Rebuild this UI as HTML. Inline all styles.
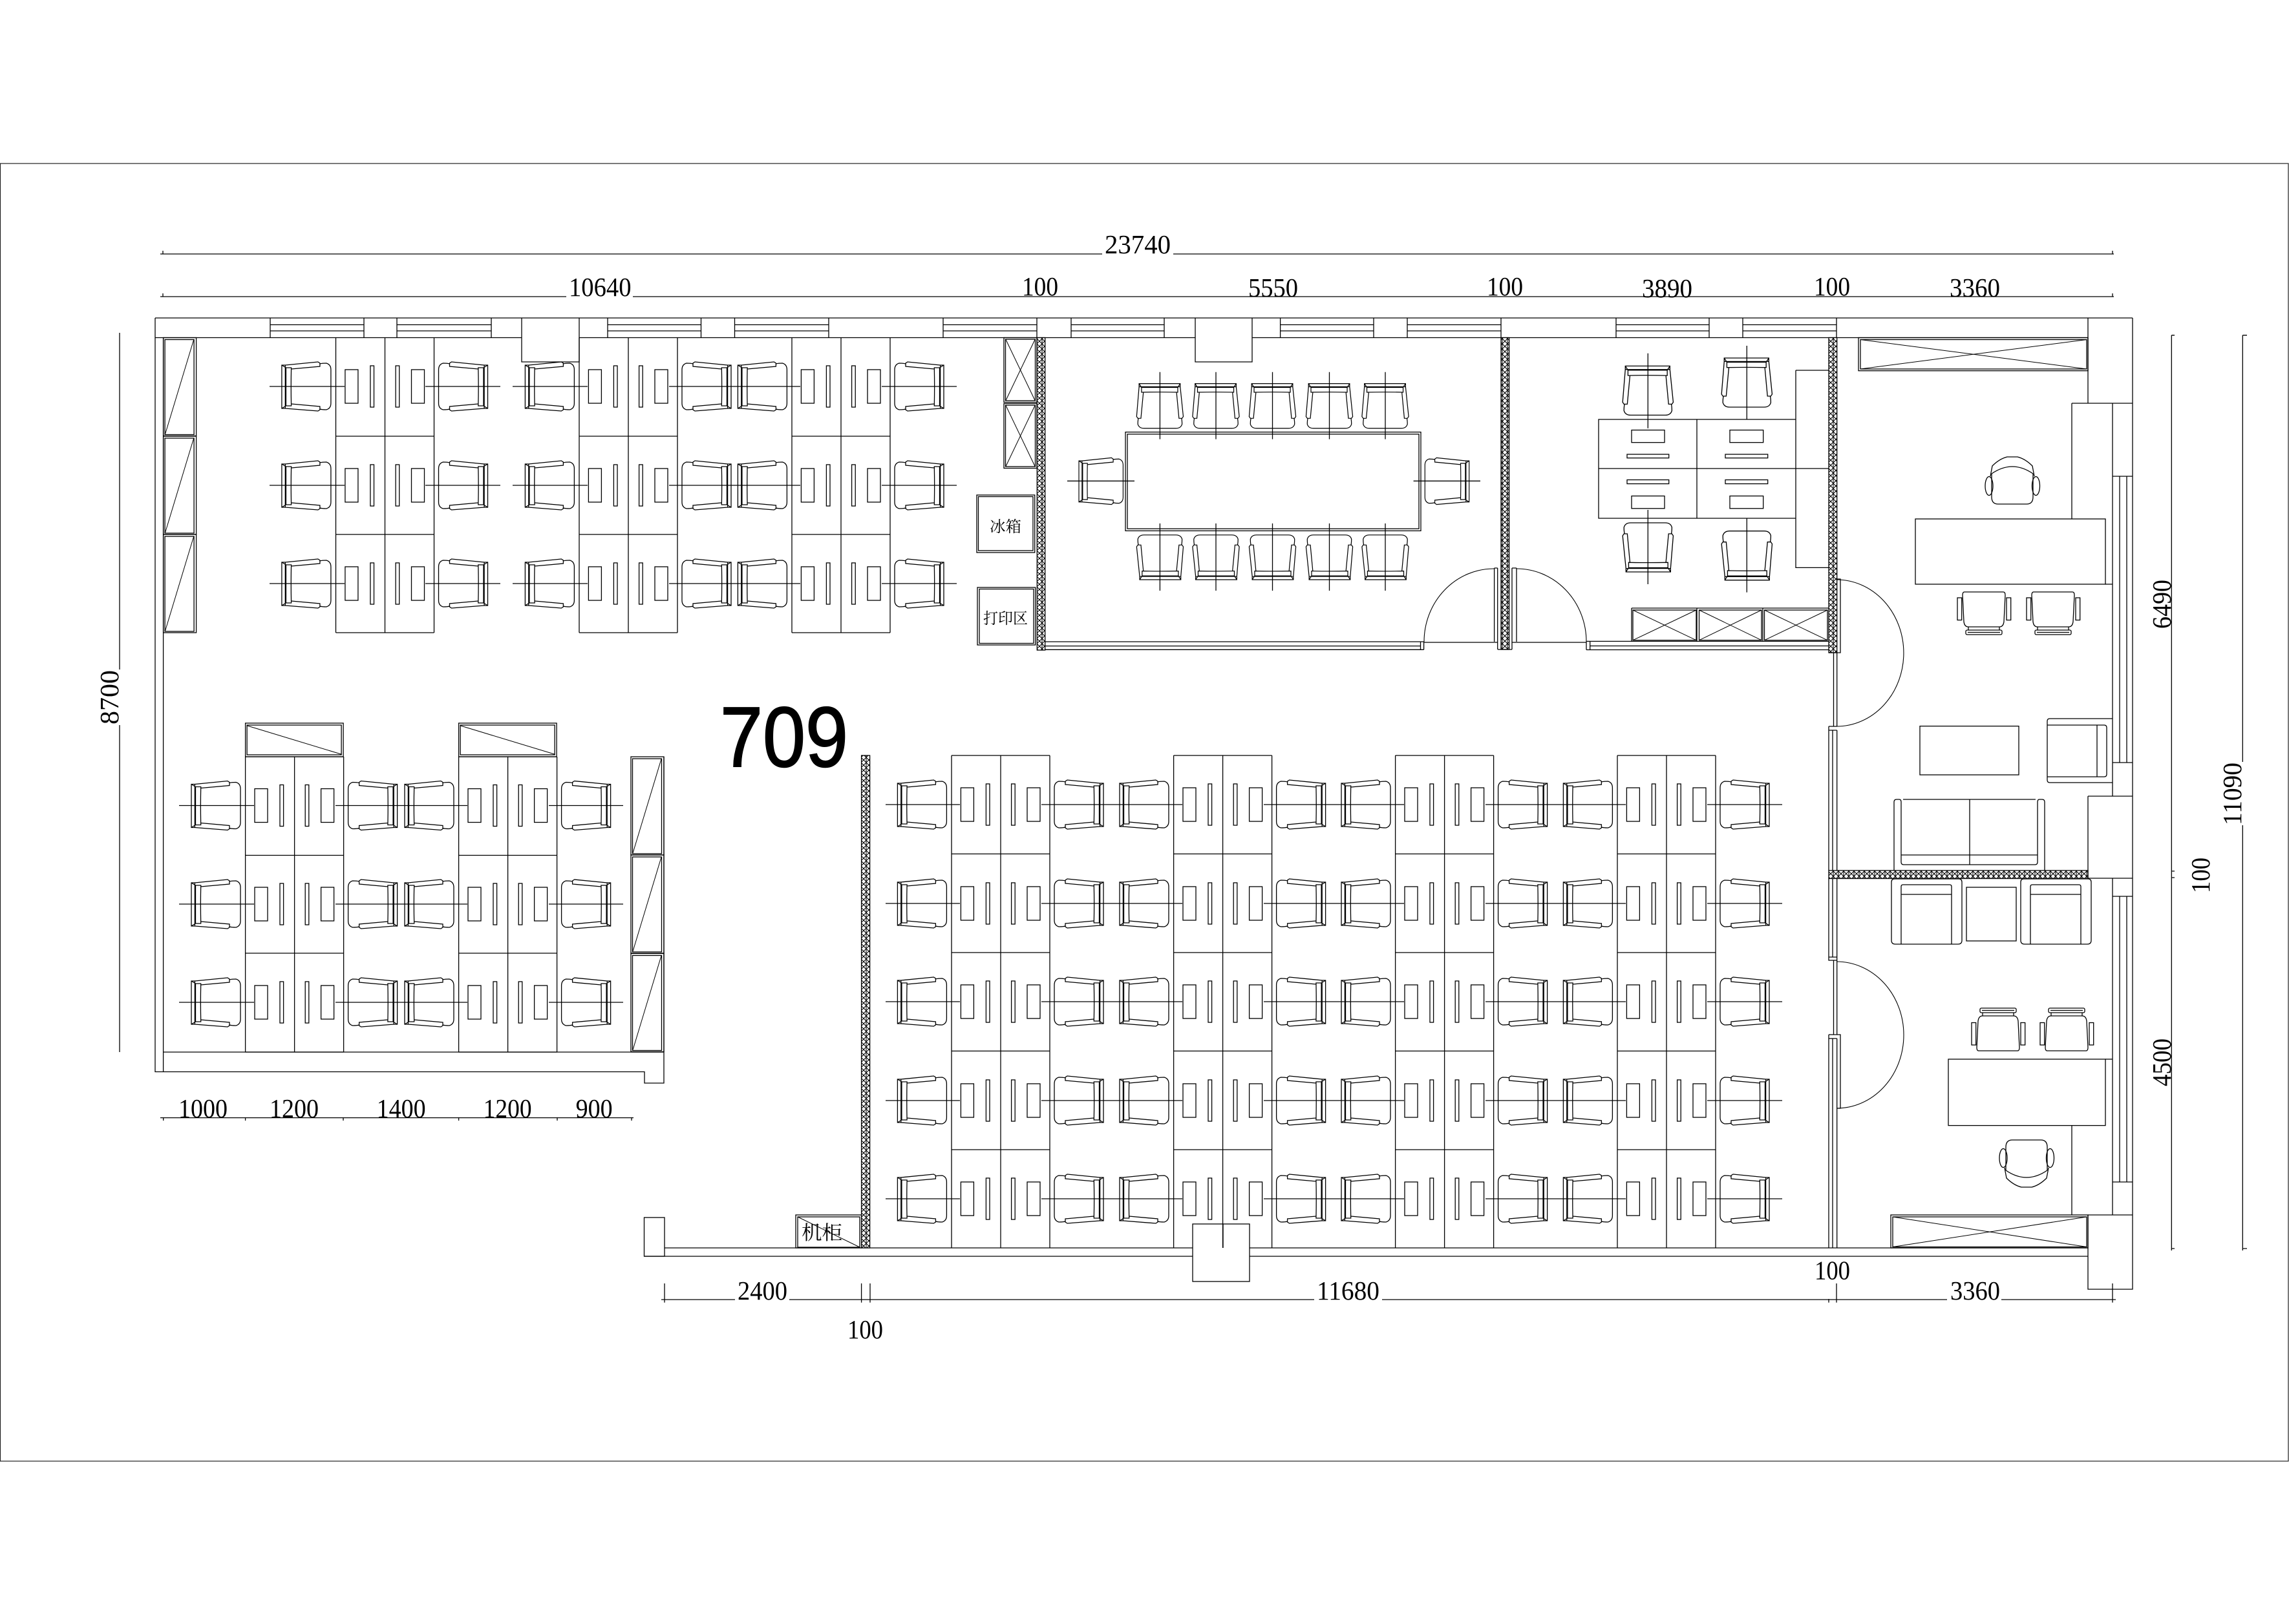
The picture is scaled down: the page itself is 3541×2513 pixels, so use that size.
<!DOCTYPE html>
<html><head><meta charset="utf-8"><title>709</title>
<style>
html,body{margin:0;padding:0;background:#fff}
svg{display:block}
.d{font-family:"Liberation Serif","Noto Serif CJK SC",serif;font-size:41px;fill:#000;stroke:none}
.z{font-family:"Liberation Serif","Noto Serif CJK SC",serif;fill:#000;stroke:none}
</style></head><body>
<svg xmlns="http://www.w3.org/2000/svg" width="3541" height="2513" viewBox="0 0 3541 2513" fill="none" stroke="#000" stroke-width="1.3">
<defs>
<pattern id="h" width="8" height="8" patternUnits="userSpaceOnUse">
<rect width="8" height="8" fill="#fff" stroke="none"/>
<path d="M0,0L8,8M8,0L0,8M4,0V8" stroke="#000" stroke-width="1.05"/>
</pattern>
<path id="c" d="M0,-33H5.4V34H0ZM6.5,-29H14.7Q14,0 14.7,30H6.5ZM0,-33L6.5,-29M0,34L6.5,30M5.4,-33L56,-38L59,-36V-31L14.7,-27M5.4,34L56,38L59,36V31L14.7,27M59,-35Q62,-36 69,-36Q76,-34 76,-26V26Q76,34 69,36Q62,36 59,35"/>
<g id="u">
<use href="#c" x="-83.6"/>
<use href="#c" transform="translate(235,0) scale(-1,1)"/>
<rect x="14.4" y="-26" width="20" height="52"/>
<rect x="53.4" y="-32" width="5.6" height="64"/>
<rect x="92.6" y="-32" width="5.6" height="64"/>
<rect x="117" y="-26" width="20" height="52"/>
</g>
<g id="rU">
<use href="#u" x="519.5"/><use href="#u" x="896"/><use href="#u" x="1225"/>
<path d="M417,0H533M658,0H774M793,0H909M1035,0H1238M1364,0H1480"/>
</g>
<g id="rL">
<use href="#u" x="379.6"/><use href="#u" x="709.6"/>
<path d="M277,0H393M519,0H723M849,0H964"/>
</g>
<g id="rM">
<use href="#u" x="1472"/><use href="#u" x="1815.6"/><use href="#u" x="2158.6"/><use href="#u" x="2502"/>
<path d="M1370,0H1485M1611,0H1829M1955,0H2172M2298,0H2515M2641,0H2757"/>
</g>
<path id="dU" d="M0,0V456.5M76,0V456.5M152,0V456.5M0,152.5H152M0,304.5H152M0,456.5H152"/>
<path id="dL" d="M0,0H152M0,0V457M76,0V457M152,0V457M0,152.5H152M0,304H152M0,457H152"/>
<path id="dM" d="M0,0H152M0,0V762M76,0V762M152,0V762M0,152.4H152M0,305H152M0,457.4H152M0,610H152"/>
<g id="tc">
<rect x="0" y="0" width="51" height="152"/>
<rect x="2.5" y="3" width="45" height="147"/>
<path d="M3,149L47,3.5" stroke-width="1"/>
</g>
<g id="wc">
<rect x="0" y="0" width="151.5" height="52"/>
<rect x="2.5" y="3" width="146" height="46"/>
<path d="M3,4L148,48" stroke-width="1"/>
</g>
<g id="xc">
<rect x="0" y="0" width="51" height="100"/>
<rect x="2.5" y="2.5" width="46" height="95"/>
<path d="M3,3L48,97M48,3L3,97" stroke-width="1"/>
</g>
<g id="boss">
<path d="M-34,30L-31,14Q-20,3 -8,0H8Q20,3 31,14L34,30M-32,26Q0,4 32,26M-32,26V62Q-32,73 -22,73H22Q32,73 32,62V26"/>
<ellipse cx="-36" cy="45" rx="6" ry="14.5"/><ellipse cx="36.5" cy="45" rx="6" ry="14.5"/>
</g>
<g id="guest">
<path d="M-30,0H30Q33,0 33,5L31,46Q30,54 24,54H-24Q-30,54 -31,46L-33,5Q-33,0 -30,0ZM-24,54V59M24,54V59"/>
<rect x="-41" y="9" width="6.7" height="34.5"/><rect x="35" y="9" width="6.7" height="34.5"/>
<rect x="-28" y="59" width="56" height="7" rx="2"/><path d="M-25,62.5H25"/>
</g>
<g id="sc">
<path d="M0,5V95Q0,101 6,101H103Q109,101 109,95V5Q109,0 104,0H5Q0,0 0,5ZM15,101V12Q15,9 18,9H90Q93,9 93,12V101M15,24H93"/>
</g>
</defs>

<!-- sheet frame -->
<rect x="0.5" y="253" width="3539.5" height="2008" stroke="#222" stroke-width="1.2"/>

<!-- top wall -->
<path d="M240,492H3299M240,522.5H807M896,522.5H1849M1937,522.5H3230"/>
<path d="M807,492V560H896V492M1849,492V560H1937V492"/>
<path id="w" d="M418,492V522.5M563,492V522.5M418,502.5H563M418,512H563
M614,492V522.5M760,492V522.5M614,502.5H760M614,512H760
M940,492V522.5M1084.5,492V522.5M940,502.5H1084.5M940,512H1084.5
M1136.5,492V522.5M1282,492V522.5M1136.5,502.5H1282M1136.5,512H1282
M1459,492V522.5M1604,492V522.5M1459,502.5H1604M1459,512H1604
M1657,492V522.5M1801,492V522.5M1657,502.5H1801M1657,512H1801
M1980.6,492V522.5M2125,492V522.5M1980.6,502.5H2125M1980.6,512H2125
M2177,492V522.5M2322,492V522.5M2177,502.5H2322M2177,512H2322
M2500,492V522.5M2644,492V522.5M2500,502.5H2644M2500,512H2644
M2696,492V522.5M2841,492V522.5M2696,502.5H2841M2696,512H2841"/>

<!-- left wall and lower-left -->
<path d="M240,492V1658.5H997V1676H1027V1171M252.6,522.5V1658.5M252.6,1628H1027"/>

<!-- right wall -->
<path d="M3299,492V1995H3230V1880M3230,492V624M3205,624H3299M3205,624V803M3268,624V1232M3268,737H3299M3268,1180H3299M3279,737V1180M3290,737V1180
M3230,1232H3299M3230,1232V1359M3230,1359H3299M3268,1359V1880M3268,1387H3299M3268,1829H3299M3279,1387V1829M3290,1387V1829M3230,1880H3299M3205,1741.6V1880"/>

<!-- bottom wall -->
<path d="M1028,1931H3230M996.5,1944H1845M1933,1944H3230"/>
<rect x="996.5" y="1884" width="31.5" height="60"/>
<rect x="1845" y="1894" width="88" height="89" fill="#fff"/>
<path d="M1892,1894V1931"/>

<!-- hatched partitions -->
<g fill="url(#h)">
<rect x="1604.3" y="522.5" width="12.4" height="483.5"/>
<rect x="2322" y="522.5" width="12.6" height="482.5"/>
<rect x="2829" y="522.5" width="12.7" height="487.5"/>
<rect x="2829" y="1347" width="401" height="12.5"/>
<rect x="1332.6" y="1169" width="13" height="762"/>
</g>

<!-- desks upper -->
<use href="#dU" x="519.5" y="522.5"/><use href="#dU" x="896" y="522.5"/><use href="#dU" x="1225" y="522.5"/>
<use href="#rU" y="598"/><use href="#rU" y="751"/><use href="#rU" y="903"/>

<!-- desks lower-left -->
<use href="#dL" x="379.6" y="1171"/><use href="#dL" x="709.6" y="1171"/>
<use href="#rL" y="1246.5"/><use href="#rL" y="1399"/><use href="#rL" y="1551"/>

<!-- desks main -->
<use href="#dM" x="1472" y="1169"/><use href="#dM" x="1815.6" y="1169"/><use href="#dM" x="2158.6" y="1169"/><use href="#dM" x="2502" y="1169"/>
<use href="#rM" y="1245"/><use href="#rM" y="1398"/><use href="#rM" y="1550"/><use href="#rM" y="1703"/><use href="#rM" y="1855"/>

<!-- cabinets -->
<use href="#tc" x="252.6" y="522.5"/><use href="#tc" x="252.6" y="675"/><use href="#tc" x="252.6" y="827"/>
<use href="#tc" x="976" y="1171"/><use href="#tc" x="976" y="1323"/><use href="#tc" x="976" y="1475.5"/>
<use href="#wc" x="379.6" y="1119"/><use href="#wc" x="709.6" y="1119"/>
<use href="#xc" x="1553" y="522.5"/><use href="#xc" x="1553" y="624.5"/>

<!-- fridge / print / rack -->
<rect x="1511" y="766" width="89.7" height="89"/><rect x="1513.5" y="768.5" width="84.5" height="83.5"/>
<text class="z" font-size="24" x="1531" y="823" textLength="49" lengthAdjust="spacingAndGlyphs">冰箱</text>
<rect x="1512" y="909" width="89.7" height="89"/><rect x="1515" y="911.5" width="84" height="84"/>
<text class="z" font-size="24" x="1521" y="965" textLength="69" lengthAdjust="spacingAndGlyphs">打印区</text>
<rect x="1231" y="1880" width="101.6" height="51"/><rect x="1234" y="1883" width="96" height="47"/>
<path d="M1234,1883L1330,1930" stroke-width="1"/>
<text class="z" font-size="30" x="1240" y="1918" textLength="63" lengthAdjust="spacingAndGlyphs">机柜</text>

<!-- meeting room -->
<rect x="1741" y="668.6" width="457" height="152.8"/><rect x="1744" y="671.8" width="451" height="146.4"/>
<g id="mt">
<use href="#c" transform="translate(1794.4,593.6) rotate(90) scale(.91,.95)"/>
<use href="#c" transform="translate(1881,593.6) rotate(90) scale(.91,.95)"/>
<use href="#c" transform="translate(1968.5,593.6) rotate(90) scale(.91,.95)"/>
<use href="#c" transform="translate(2056.5,593.6) rotate(90) scale(.91,.95)"/>
<use href="#c" transform="translate(2143,593.6) rotate(90) scale(.91,.95)"/>
<use href="#c" transform="translate(1794.4,897) rotate(-90) scale(.91,.95)"/>
<use href="#c" transform="translate(1881,897) rotate(-90) scale(.91,.95)"/>
<use href="#c" transform="translate(1968.5,897) rotate(-90) scale(.91,.95)"/>
<use href="#c" transform="translate(2056.5,897) rotate(-90) scale(.91,.95)"/>
<use href="#c" transform="translate(2143,897) rotate(-90) scale(.91,.95)"/>
<use href="#c" transform="translate(1669,744.5) scale(.9,.95)"/>
<use href="#c" transform="translate(2272.7,744.5) scale(-.9,.95)"/>
</g>
<path d="M1794.4,575.7V679.6M1881,575.7V679.6M1968.5,575.7V679.6M2056.5,575.7V679.6M2143,575.7V679.6
M1794.4,810V914M1881,810V914M1968.5,810V914M2056.5,810V914M2143,810V914M1651,744.3H1755M2186.6,744.3H2290"/>

<!-- meeting bottom wall + doors -->
<path d="M1617,993H2202.6M1617,999.6H2197.5M1617,1005.3H2202.6M2197.5,993V1005.3M2202.6,993V1005.3M2202.6,994H2317M2339,994H2454"/>
<path d="M2311.6,879V993M2316.7,879V1005M2311.6,879H2316.7M2339,879V1005M2346,879V993M2339,879H2346M2317,1005H2339"/>
<path stroke-width="1.1" d="M2311,880A108,113 0 0 0 2203,993M2346,880A108,113 0 0 1 2454,993"/>
<path d="M2454,993V1005.5M2459.7,993V1005.5M2454,1005.5H2829M2454,992.4H2829M2459.7,999.5H2829"/>

<!-- room 3 -->
<path d="M2473,649H2778V802H2473ZM2625,649V802M2473,725H2829M2778,573H2829M2778,573V878.4H2829"/>
<rect x="2524" y="665.5" width="51" height="19.2"/><rect x="2517" y="703" width="64.7" height="5.7"/>
<rect x="2676" y="665.5" width="51.7" height="19.2"/><rect x="2669" y="703" width="65.7" height="5.7"/>
<rect x="2517" y="742.5" width="64.7" height="6.1"/><rect x="2524" y="767.5" width="51" height="19.3"/>
<rect x="2669" y="742.5" width="65.7" height="6.1"/><rect x="2676" y="767.5" width="51.7" height="19.3"/>
<use href="#c" transform="translate(2549.3,566.4) rotate(90) scale(1,1.03)"/>
<use href="#c" transform="translate(2702.3,554) rotate(90) scale(1,1.03)"/>
<use href="#c" transform="translate(2549.3,885) rotate(-90) scale(1,1.03)"/>
<use href="#c" transform="translate(2702.3,897.7) rotate(-90) scale(1,1.03)"/>
<path d="M2549.3,546.8V662.7M2702.3,535V649M2549.3,789V904M2702.3,802V916.6"/>
<path d="M2524,941H2829M2524,941V992.4M2625,941V992.4M2727,941V992.4"/>
<rect x="2526" y="944" width="98" height="46.7"/><path d="M2526,944L2624,990.7M2624,944L2526,990.7" stroke-width="1"/>
<rect x="2628.5" y="944" width="96.5" height="46.7"/><path d="M2628.5,944L2725,990.7M2725,944L2628.5,990.7" stroke-width="1"/>
<rect x="2729.5" y="944" width="97.5" height="46.7"/><path d="M2729.5,944L2827,990.7M2827,944L2729.5,990.7" stroke-width="1"/>

<!-- east office walls/doors -->
<path d="M2841.7,896H2847V1010H2829M2836.5,1010V1124M2841.7,1010V1124M2829,1124H2841.7M2829,1130H2841.7M2829,1124V1347M2835,1130V1347M2841.7,1130V1347"/>
<path d="M2829,1359.5V1486H2841.7M2835,1359.5V1481M2841.7,1359.5V1486M2829,1481H2841.7M2836.5,1486V1601M2841.7,1486V1601M2829,1601H2847V1715H2841.7M2829,1607H2841.7M2829,1601V1931M2835,1607V1931M2841.7,1607V1931"/>
<path stroke-width="1.1" d="M2841,897A104,113.5 0 0 1 2841,1124M2841,1488A104,113.5 0 0 1 2841,1715"/>

<!-- upper office -->
<rect x="2875" y="522.5" width="355" height="51.2"/><rect x="2878" y="525.5" width="350" height="45.5"/>
<path d="M2878,525.5L3228,571M3228,525.5L2878,571" stroke-width="1"/>
<rect x="2963" y="803" width="294" height="101"/><path d="M3257,904H3268"/>
<use href="#boss" x="3113" y="707"/>
<use href="#guest" x="3069" y="916"/><use href="#guest" x="3176" y="916"/>
<rect x="2970" y="1123.6" width="153" height="75.4"/>
<path d="M3268,1112H3171Q3167,1112 3167,1116V1207Q3167,1211 3171,1211H3268M3167,1122H3255Q3259,1122 3259,1126V1198Q3259,1202 3255,1202H3167M3244,1122V1202"/>
<path d="M2930,1347V1241Q2930,1237 2934,1237H2938Q2941,1237 2941,1241M3163,1347V1241Q3163,1237 3159,1237H3155Q3152,1237 3152,1241M2941,1241V1334Q2941,1338 2945,1338H3148Q3152,1338 3152,1334V1241M2944,1237H3149M3047,1237V1338M2941,1323H3152"/>

<!-- lower office -->
<use href="#sc" x="2926" y="1360"/><use href="#sc" x="3126" y="1360"/>
<rect x="3042" y="1373" width="77" height="83"/>
<rect x="3014" y="1639" width="243" height="102.6"/><path d="M3257,1639H3268"/>
<use href="#guest" transform="translate(3091,1626) scale(1,-1)"/>
<use href="#guest" transform="translate(3197,1626) scale(1,-1)"/>
<use href="#boss" transform="translate(3135,1837) scale(1,-1)"/>
<rect x="2925" y="1880" width="305" height="51"/><rect x="2928" y="1883" width="300" height="46.5"/>
<path d="M2928,1883L3228,1929.5M3228,1883L2928,1929.5" stroke-width="1"/>

<!-- dimension lines -->
<path d="M248,393H1705M1815,393H3270M252,388V393M3268,388V393"/>
<path d="M248,459H876M979,459H3270M252,454V459M3268,454V459"/>
<path d="M248,1729.6H980M252.7,1729.6V1734M379.6,1729.6V1734M531,1729.6V1734M709.6,1729.6V1734M862,1729.6V1734M977,1729.6V1734"/>
<path d="M1023,2011H1137M1221,2011H2033M2138,2011H3012M3096,2011H3273M1028,1986V2015.6M1332.6,1986V2015.6M1346,1986V2015.6M2829,2010V2015.6M2841,1986V2015.6M3268,1986V2015.6"/>
<path d="M185,515V1036M185,1122V1628"/>
<path d="M3359.3,518.7V1935M3359.3,518.7H3364M3359.3,1348H3364M3359.3,1358H3364M3359.3,1932H3364"/>
<path d="M3469.3,518.7V1179M3469.3,1277V1935M3469.3,518.7H3476M3469.3,1932H3476"/>

<!-- dimension text -->
<g>
<text class="d" x="1709" y="392" textLength="102" lengthAdjust="spacingAndGlyphs">23740</text>
<text class="d" x="880" y="458" textLength="96.5" lengthAdjust="spacingAndGlyphs">10640</text>
<text class="d" x="1581" y="457" textLength="56" lengthAdjust="spacingAndGlyphs">100</text>
<text class="d" x="1931" y="459" textLength="77" lengthAdjust="spacingAndGlyphs">5550</text>
<text class="d" x="2300" y="457" textLength="56" lengthAdjust="spacingAndGlyphs">100</text>
<text class="d" x="2540" y="460" textLength="78" lengthAdjust="spacingAndGlyphs">3890</text>
<text class="d" x="2806" y="457" textLength="56" lengthAdjust="spacingAndGlyphs">100</text>
<text class="d" x="3016" y="459" textLength="78" lengthAdjust="spacingAndGlyphs">3360</text>
<text class="d" x="276" y="1729" textLength="76" lengthAdjust="spacingAndGlyphs">1000</text>
<text class="d" x="417" y="1729" textLength="76" lengthAdjust="spacingAndGlyphs">1200</text>
<text class="d" x="582.6" y="1729" textLength="76" lengthAdjust="spacingAndGlyphs">1400</text>
<text class="d" x="747.6" y="1729" textLength="75" lengthAdjust="spacingAndGlyphs">1200</text>
<text class="d" x="890.6" y="1729" textLength="57" lengthAdjust="spacingAndGlyphs">900</text>
<text class="d" x="1141" y="2011" textLength="77" lengthAdjust="spacingAndGlyphs">2400</text>
<text class="d" x="2037" y="2011" textLength="97" lengthAdjust="spacingAndGlyphs">11680</text>
<text class="d" x="1311" y="2071" textLength="55" lengthAdjust="spacingAndGlyphs">100</text>
<text class="d" x="2807" y="1979.6" textLength="55" lengthAdjust="spacingAndGlyphs">100</text>
<text class="d" x="3017" y="2011" textLength="77" lengthAdjust="spacingAndGlyphs">3360</text>
<text class="d" transform="translate(183,1121) rotate(-90)" textLength="84" lengthAdjust="spacingAndGlyphs">8700</text>
<text class="d" transform="translate(3358,973) rotate(-90)" textLength="76" lengthAdjust="spacingAndGlyphs">6490</text>
<text class="d" transform="translate(3358,1681) rotate(-90)" textLength="74" lengthAdjust="spacingAndGlyphs">4500</text>
<text class="d" transform="translate(3467,1277) rotate(-90)" textLength="97" lengthAdjust="spacingAndGlyphs">11090</text>
<text class="d" transform="translate(3418,1382) rotate(-90)" textLength="55" lengthAdjust="spacingAndGlyphs">100</text>
</g>

<!-- room number -->
<text x="1114" y="1186" font-family="'Liberation Sans',sans-serif" font-size="132" fill="#000" stroke="#000" stroke-width="2" textLength="198" lengthAdjust="spacingAndGlyphs">709</text>
</svg>
</body></html>
